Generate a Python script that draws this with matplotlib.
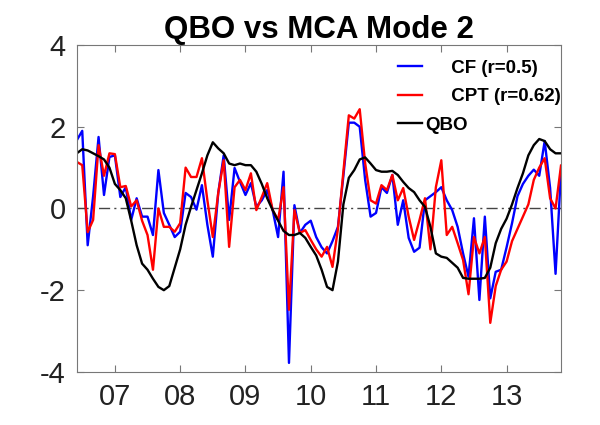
import numpy as np
import matplotlib
matplotlib.use('Agg')
import matplotlib.pyplot as plt

# monthly series, first month = June 2006
start_year = 2006
start_month = 6
cf = [1.67, 1.9, -0.9, 0.3, 1.75, 0.33, 1.26, 1.3, 0.28, 0.52,
      -0.28, 0.25, -0.2, -0.2, -0.65, 0.94, -0.11, -0.4, -0.7, -0.57,
      0.38, 0.28, -0.03, 0.57, -0.4, -1.18, 0.38, 1.3, -0.28, 0.99,
      0.65, 0.33, 0.62, 0.04, 0.2, 0.45, -0.04, -0.7, 0.9, -3.78,
      0.08, -0.6, -0.4, -0.3, -0.7, -0.95, -1.1, -0.8, -0.45, 0.8,
      2.1, 2.1, 2.0, 0.7, -0.2, -0.11, 0.52, 0.38, 0.82, -0.4,
      0.2, -0.72, -1.06, -0.96, 0.2, 0.3, 0.4, 0.52, 0.2, -0.04,
      -0.45, -1.1, -1.67, -0.24, -2.24, -0.2, -2.2, -1.55, -1.5, -0.95,
      -0.36, 0.3, 0.6, 0.8, 0.95, 0.8, 1.65, 0.5, -1.6, 0.9]
cpt = [1.14, 1.06, -0.58, -0.28, 1.55, 0.8, 1.35, 1.33, 0.52, 0.55,
       0.05, 0.2, -0.3, -0.65, -1.5, 0.0, -0.45, -0.45, -0.57, -0.36,
       1.0, 0.77, 0.77, 1.23, 0.2, -0.7, 0.38, 1.18, -0.94, 0.52,
       0.7, 0.45, 0.86, -0.04, 0.28, 0.62, -0.04, -0.28, 0.52, -2.48,
       -0.04, -0.6, -0.53, -0.77, -1.0, -1.18, -0.94, -1.43, -0.5, 0.9,
       2.28, 2.2, 2.43, 1.11, 0.2, 0.12, 0.57, 0.45, 0.82, 0.2,
       0.5, -0.2, -0.77, -0.28, 0.25, -1.0, 0.52, 1.18, -0.65, -0.45,
       -0.85, -1.26, -2.1, -0.7, -1.1, -0.7, -2.8, -1.9, -1.5, -1.3,
       -0.8, -0.5, -0.2, 0.1, 0.7, 1.0, 1.23, 0.25, 0.0, 1.05]
qbo = [1.35, 1.45, 1.42, 1.35, 1.28, 1.2, 1.0, 0.6, 0.45, 0.25,
       -0.3, -0.9, -1.35, -1.5, -1.72, -1.92, -2.0, -1.9, -1.45, -1.0,
       -0.4, 0.04, 0.45, 0.86, 1.3, 1.62, 1.47, 1.35, 1.1, 1.06,
       1.1, 1.06, 1.06, 0.9, 0.6, 0.25, -0.04, -0.3, -0.55, -0.65,
       -0.65, -0.6, -0.72, -0.94, -1.15, -1.5, -1.92, -2.0, -1.3, 0.1,
       0.75, 0.94, 1.2, 1.25, 1.1, 0.94, 0.9, 0.9, 0.92, 0.82,
       0.65, 0.5, 0.4, 0.2, 0.04, -0.45, -1.1, -1.18, -1.21, -1.33,
       -1.45, -1.7, -1.72, -1.72, -1.72, -1.7, -1.45, -0.85, -0.5, -0.25,
       0.1, 0.5, 0.86, 1.3, 1.55, 1.7, 1.65, 1.45, 1.35, 1.35]
years = [2007, 2008, 2009, 2010, 2011, 2012, 2013]
year_labels = ['07', '08', '09', '10', '11', '12', '13']

t = start_year + (start_month - 1) / 12.0 + np.arange(len(cf)) / 12.0

plt.rcParams['font.family'] = ['Liberation Sans', 'DejaVu Sans']
plt.rcParams['axes.unicode_minus'] = False

fig = plt.figure(figsize=(6, 4.25), dpi=100)
ax = fig.add_axes([0.128, 0.125, 0.807, 0.769])

ax.axhline(0, color='#444444', lw=1, ls='-.', dashes=(8, 3, 1.5, 3))
ax.plot(t, cf, color='#0000ff', lw=1.7, label='     CF (r=0.5)')
ax.plot(t, cpt, color='#ff0000', lw=1.7, label='     CPT (r=0.62)')
ax.plot(t, qbo, color='black', lw=1.7, label='QBO')

ax.set_xlim(t[0], t[-1])
ax.set_ylim(-4, 4)
ax.set_yticks([-4, -2, 0, 2, 4])
ax.set_xticks(years)
ax.set_xticklabels(year_labels)
ax.tick_params(direction='in', top=True, right=True, length=5,
               color='#777777', labelsize=21, pad=8, labelcolor='#222222')
for s in ax.spines.values():
    s.set_color('#777777')
    s.set_linewidth(0.8)

ax.set_title('QBO vs MCA Mode 2', fontsize=22.5, fontweight='bold', pad=5)

leg = ax.legend(loc='upper right', bbox_to_anchor=(1.0, 0.955), frameon=False,
                prop={'weight': 'bold', 'size': 13.5},
                handlelength=1.3, handletextpad=0.15, labelspacing=0.6,
                borderaxespad=0, borderpad=0)

plt.savefig('out.png', dpi=100)
